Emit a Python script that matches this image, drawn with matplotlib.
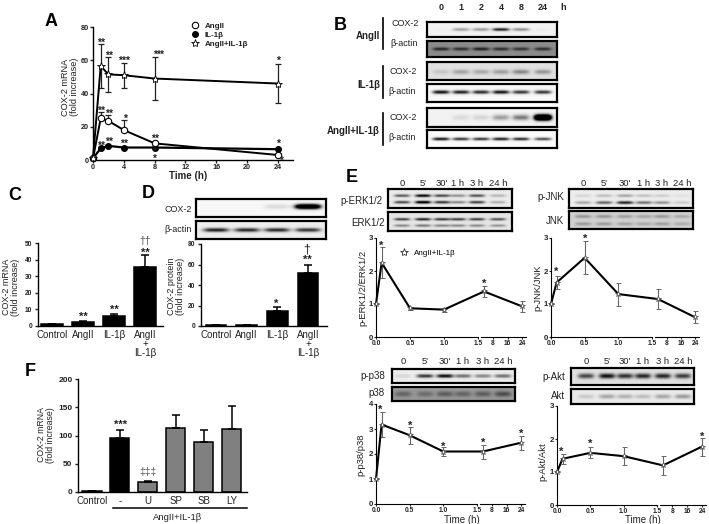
import matplotlib
matplotlib.use('Agg')
import matplotlib.pyplot as plt
import numpy as np

plt.rcParams['font.family'] = ['Liberation Sans', 'DejaVu Sans']

W, H = 709, 524

# Panel A, time course
time_a = [0, 1, 2, 4, 8, 24]
ang = [1, 25, 23.5, 18, 10, 3]
ang_err = [0, 4, 3.5, 6, 1, 1]
il = [1, 7, 8.5, 7.5, 7.5, 6.5]
il_err = [0, 0.5, 0.8, 0.6, 0.6, 0.5]
combo = [1, 56.5, 51.5, 51, 49, 46]
combo_err = [0, 13, 10.5, 7.5, 13, 12]

# Panels C, D, F, bars
cats = ['Control', 'AngII', 'IL-1β', 'AngII\n+\nIL-1β']
mrna_c = [1, 2.5, 6, 35.5]
mrna_c_err = [0, 0.3, 1.5, 7]
prot_d = [1, 1.2, 15, 51.5]
prot_d_err = [0, 0.2, 3.5, 8]
cats_f = ['Control', '-', 'U', 'SP', 'SB', 'LY']
mrna_f = [1, 96, 17, 113, 89, 111]
mrna_f_err = [0, 14, 3, 24, 21, 42]

# Panel E, phospho time courses
time_e = [0, 0.083, 0.5, 1, 3, 24]
erk = [1, 2.25, 0.87, 0.83, 1.38, 0.93]
erk_err = [0, 0.47, 0.05, 0.06, 0.17, 0.17]
jnk = [1, 1.65, 2.4, 1.3, 1.15, 0.6]
jnk_err = [0, 0.2, 0.5, 0.35, 0.3, 0.18]
p38 = [1, 3.18, 2.75, 2.1, 2.1, 2.45]
p38_err = [0, 0.5, 0.33, 0.17, 0.28, 0.28]
akt = [1, 1.4, 1.58, 1.48, 1.2, 1.77]
akt_err = [0, 0.15, 0.17, 0.27, 0.28, 0.27]

# Blot band strengths per lane
b_ang_cox = [0.02, 0.35, 0.38, 0.9, 0.42, 0.03]
b_ang_act = [0.75, 0.7, 0.8, 0.7, 0.65, 0.7]
b_il_cox = [0.12, 0.28, 0.25, 0.3, 0.4, 0.33]
b_il_act = [0.95, 0.9, 0.85, 0.95, 0.8, 0.8]
b_com_cox = [0, 0.1, 0.12, 0.35, 0.5, 2.5]
b_com_act = [0.95, 0.8, 0.8, 0.9, 0.85, 0.7]
d_cox = [0, 0, 0.12, 1.8]
d_act = [0.9, 0.85, 0.85, 0.8]
e_perk = [0.8, 1.3, 0.9, 0.5, 0.85, 0.3]
e_erk = [0.85, 1, 0.9, 0.85, 0.85, 0.75]
e_pjnk = [0.3, 0.6, 0.9, 0.55, 0.4, 0.15]
e_jnk = [0.3, 0.3, 0.25, 0.22, 0.28, 0.2]
e_pp38 = [0.1, 0.8, 1, 0.55, 0.45, 0.55]
e_p38 = [0.35, 0.3, 0.4, 0.35, 0.4, 0.5]
e_pakt = [0.7, 0.95, 0.8, 0.85, 0.85, 0.75]
e_akt = [0.15, 0.3, 0.25, 0.2, 0.3, 0.35]

fig = plt.figure(figsize=(W / 100, H / 100), dpi=100, facecolor='white')


def axpx(x0, y0, x1, y1):
    # axes from pixel box, y counted from the top
    return fig.add_axes([x0 / W, 1 - y1 / H, (x1 - x0) / W, (y1 - y0) / H])


over = axpx(0, 0, W, H)
over.set_xlim(0, W)
over.set_ylim(H, 0)
over.axis('off')
over.set_zorder(10)
over.patch.set_alpha(0)


def txt(x, y, s, size=6.3, weight='normal', ha='center', rot=0, color='#222222', ls=0.9):
    over.text(x, y, s, fontsize=size, fontweight=weight, ha=ha, va='center', rotation=rot,
              color=color, linespacing=ls, rotation_mode='anchor' if rot else 'default')


def marks(pts, s='*', size=8):
    for x, y in pts:
        over.text(x, y + 2, s, fontsize=size, fontweight='bold', ha='center', va='center', color='#222222')


def style(ax, tick=5.2, weight='bold', lw=1.0, length=2.5, pad=1.5):
    for s in ['top', 'right']:
        ax.spines[s].set_visible(False)
    for s in ['left', 'bottom']:
        ax.spines[s].set_linewidth(lw)
    ax.patch.set_alpha(0)
    ax.tick_params(length=length, width=lw, labelsize=tick, pad=pad, colors='#222222')
    for lab in ax.get_xticklabels() + ax.get_yticklabels():
        lab.set_fontweight(weight)


def blot(x0, y0, x1, y1, lanes, levels, bg, rows=(0.5,), weights=(1.0,), sx=0.32, sy=1.5):
    # lanes are pixel centres, levels the band strength in each lane
    ax = axpx(x0, y0, x1, y1)
    xx, yy = np.meshgrid(np.linspace(x0, x1, (x1 - x0) * 3), np.linspace(y0, y1, (y1 - y0) * 3))
    dark = np.zeros_like(xx)
    gap = (lanes[-1] - lanes[0]) / (len(lanes) - 1)
    for cx, lev in zip(lanes, levels):
        for frac, w in zip(rows, weights):
            cy = y0 + frac * (y1 - y0)
            dark += lev * w * np.exp(-((xx - cx) / (sx * gap * 1.3)) ** 4) * np.exp(-((yy - cy) / sy) ** 2)
    ax.imshow(bg * (1 - np.clip(dark, 0, 1)), cmap='gray', vmin=0, vmax=1, aspect='auto', interpolation='bilinear')
    ax.set_xticks([])
    ax.set_yticks([])
    for s in ax.spines.values():
        s.set_linewidth(1.6)
    return ax


def bars(box, xlim, ylim, yt, cats_, vals, errs, colors, width=0.68, tick=4.8):
    ax = axpx(*box)
    xs = np.arange(len(vals))
    ax.bar(xs, vals, width, color=colors, edgecolor='black', linewidth=1.1)
    ax.errorbar(xs, vals, yerr=[np.zeros(len(errs)), errs], fmt='none', ecolor='black', elinewidth=1.1,
                capsize=3.2, capthick=1.1)
    ax.set_xlim(*xlim)
    ax.set_ylim(*ylim)
    ax.set_yticks(yt)
    ax.set_xticks(xs)
    ax.set_xticklabels(cats_, linespacing=0.85)
    style(ax, tick=tick)
    ax.tick_params(axis='x', length=0, pad=3, labelsize=7)
    for lab in ax.get_xticklabels():
        lab.set_fontweight('normal')
    return ax


def timecourse(box_y, knots_px, yt, vals, errs, ylab, ylab_x, ylab_y, xlabel=False):
    knots_h = [0, 1.5, 3, 24, 26]
    y0, y1 = box_y
    ax = axpx(knots_px[0], y0, knots_px[-1], y1)
    fwd = lambda v: np.interp(v, knots_h, knots_px)
    inv = lambda v: np.interp(v, knots_px, knots_h)
    ax.set_xscale('function', functions=(fwd, inv))
    ax.errorbar(time_e, vals, yerr=errs, fmt='none', ecolor='#666666', elinewidth=0.8, capsize=1.8,
                capthick=0.7, clip_on=False, zorder=2)
    ax.plot(time_e, vals, '-', color='black', lw=1.5, clip_on=False, zorder=3)
    ax.plot(time_e, vals, '*', mfc='white', mec='#444444', mew=0.5, ms=4, clip_on=False, zorder=4)
    ax.set_xlim(0, 26)
    ax.set_ylim(yt[0], yt[-1])
    ax.set_yticks(yt)
    ax.set_xticks([0, 0.5, 1, 1.5, 8, 16, 24])
    ax.set_xticklabels(['0.0', '0.5', '1.0', '1.5', '8', '16', '24'])
    ax.minorticks_off()
    style(ax, tick=4.8, lw=0.8, length=1.5, pad=0.8)
    ax.spines['bottom'].set_bounds(0, 1.5)
    ax.plot([2.25, 26], [yt[0], yt[0]], color='black', lw=0.8, clip_on=False, transform=ax.get_xaxis_transform())
    ax.tick_params(axis='y', labelsize=5.6)
    txt(ylab_x, ylab_y, ylab, size=6.8, rot=90)
    if xlabel:
        txt((knots_px[0] + knots_px[3]) / 2 + 13, 520, 'Time (h)', size=7)
    return ax


# Panel A
ax = axpx(93, 27, 293, 160)
ax.errorbar(time_a, combo, yerr=combo_err, fmt='none', ecolor='#222222', elinewidth=0.9, capsize=2.5, capthick=0.9, clip_on=False)
ax.errorbar(time_a, ang, yerr=[np.zeros(6), ang_err], fmt='none', ecolor='#222222', elinewidth=0.9, capsize=2.5, capthick=0.9, clip_on=False)
ax.errorbar(time_a, il, yerr=[np.zeros(6), il_err], fmt='none', ecolor='#222222', elinewidth=0.9, capsize=2, capthick=0.9, clip_on=False)
ax.plot(time_a, ang, '-o', color='black', lw=1.4, mfc='white', mew=0.8, ms=4.6, clip_on=False, label='AngII', zorder=4)
ax.plot(time_a, il, '-o', color='black', lw=1.6, mfc='black', ms=4, clip_on=False, label='IL-1β', zorder=3)
ax.plot(time_a, combo, '-*', color='black', lw=1.4, mfc='white', mew=0.6, ms=6, clip_on=False, label='AngII+IL-1β', zorder=4)
ax.set_xlim(0, 25.95)
ax.set_ylim(0, 80)
ax.set_xticks([0, 4, 8, 12, 16, 20, 24])
ax.set_yticks([0, 20, 40, 60, 80])
style(ax, tick=5.2, length=2, pad=1)
handles, labels = ax.get_legend_handles_labels()
leg = ax.legend(handles, labels, loc='upper left', bbox_to_anchor=(190 / W, 1 - 22 / H), bbox_transform=fig.transFigure,
                frameon=False, fontsize=5.8, handlelength=1.2, handletextpad=0.6, labelspacing=0.2, borderpad=0, borderaxespad=0)
for t in leg.get_texts():
    t.set_fontweight('bold')
    t.set_color('#222222')
for line in leg.get_lines():
    line.set_linestyle('none')
txt(70, 87, 'COX-2 mRNA\n(fold increase)', size=6.6, rot=90, ls=1.05)
txt(188, 176, 'Time (h)', size=7, weight='bold')
marks([(101, 41), (160, 53)], '**', 7.5)
marks([(109, 54)], '**', 7.5)
marks([(124, 59)], '***', 7.5)
marks([(155, 53), (278, 59), (125, 117), (278, 142)], '*', 7.5)
marks([(101, 109), (109, 112), (155, 137), (101, 144), (109, 140), (124, 142)], '**', 7.5)
marks([(155, 150), (155, 157), (282, 159)], '*', 7)

# Panel B
lanes_b = [441, 461, 481, 501, 521, 543]
blot(427, 22, 557, 37, lanes_b, b_ang_cox, 0.95)
blot(427, 41, 557, 57, lanes_b, b_ang_act, 0.55, sy=1.7)
blot(427, 62, 557, 80, lanes_b, b_il_cox, 0.88, rows=(0.55,), sy=2.4)
blot(427, 84, 557, 102, lanes_b, b_il_act, 0.97, rows=(0.45,), sy=1.8)
blot(427, 108, 557, 127, lanes_b, b_com_cox, 0.95, rows=(0.5,), sy=2.8)
blot(427, 130, 557, 148, lanes_b, b_com_act, 0.98, rows=(0.5,), sy=1.5)
for x, s in zip(lanes_b, ['0', '1', '2', '4', '8', '24']):
    txt(x, 7, s, size=6.5, weight='bold')
txt(563, 7, 'h', size=6.5, weight='bold')
txt(368, 36, 'AngII', size=7, weight='bold')
txt(369, 85, 'IL-1β', size=7, weight='bold')
txt(380, 131, 'AngII+IL-1β', size=7, weight='bold', ha='right')
for a, b in [(18, 49), (66, 98), (113, 145)]:
    over.plot([383, 383], [a, b], color='black', lw=1.2)
for y, x, s in [(23, 405, 'COX-2'), (44, 404, 'β-actin'), (71, 403, 'COX-2'), (92, 402, 'β-actin'),
                (118, 403, 'COX-2'), (138, 402, 'β-actin')]:
    txt(x, y, s, size=6.5)

# Panel C
bars((38, 243, 163, 326), (-0.45, 3.58), (0, 50), [0, 10, 20, 30, 40, 50], cats, mrna_c, mrna_c_err, 'black')
txt(11, 287, 'COX-2 mRNA\n(fold increase)', size=6.5, rot=90, ls=1.05)
marks([(83, 315), (114, 308), (145, 251)], '**')
txt(145, 241, '††', size=7.5, color='#555555')

# Panel D
bars((201, 244, 327, 326), (-0.49, 3.62), (0, 80), [0, 20, 40, 60, 80], cats, prot_d, prot_d_err, 'black')
txt(176, 286, 'COX-2 protein\n(fold increase)', size=6.5, rot=90, ls=1.05)
marks([(276, 302)], '*')
marks([(307, 258)], '**')
txt(307, 249, '†', size=9)
lanes_d = [216, 247, 277, 308]
blot(196, 199, 326, 217, lanes_d, d_cox, 0.97, rows=(0.42,), sy=2.4)
blot(196, 221, 326, 239, lanes_d, d_act, 0.93, rows=(0.5,), sy=2.0)
txt(192, 209, 'COX-2', size=6.5, ha='right')
txt(192, 229, 'β-actin', size=6.5, ha='right')

# Panel F
colors_f = ['black', 'black', '#808080', '#808080', '#808080', '#808080']
bars((78, 379, 247, 492), (-0.5, 5.54), (0, 200), [0, 50, 100, 150, 200], cats_f, mrna_f, mrna_f_err, colors_f, tick=6)
txt(46, 435, 'COX-2 mRNA\n(fold increase)', size=6.3, rot=90, ls=1.05)
marks([(121, 423)], '***')
txt(148, 472, '‡‡‡', size=7.5, color='#555555')
over.plot([113, 247], [508, 508], color='black', lw=1.1)
txt(178, 517, 'AngII+IL-1β', size=6.8)

# Panel E
ax = timecourse((238, 337), [376, 478, 484, 522, 526], [0, 1, 2, 3], erk, erk_err, 'p-ERK1/2/ERK1/2', 363, 288)
ax.plot([], [], '*', mfc='white', mec='#333333', mew=0.6, ms=6, label='AngII+IL-1β')
leg = ax.legend(loc='upper left', bbox_to_anchor=(399 / W, 1 - 249 / H), bbox_transform=fig.transFigure, frameon=False,
                fontsize=5.8, handlelength=1.2, handletextpad=0.6, borderpad=0, borderaxespad=0)
marks([(381, 244), (484, 282)])
timecourse((238, 337), [551, 652, 658, 695, 699], [0, 1, 2, 3], jnk, jnk_err, 'p-JNK/JNK', 538, 288)
marks([(556, 270), (585, 237)])
timecourse((404, 504), [376, 477, 483, 521, 525], [0, 1, 2, 3, 4], p38, p38_err, 'p-p38/p38', 361, 455, xlabel=True)
marks([(380, 408), (410, 424), (443, 445), (483, 441), (521, 432)])
timecourse((406, 505), [557, 657, 663, 702, 706], [0, 1, 2, 3], akt, akt_err, 'p-Akt/Akt', 543, 462, xlabel=True)
marks([(561, 450), (590, 442), (702, 435)])

time_lanes = ['0', "5'", "30'", '1 h', '3 h', '24 h']
lanes_erk = [402, 423, 442, 458, 477, 498]
blot(388, 189, 512, 208, lanes_erk, e_perk, 0.92, rows=(0.35, 0.7), weights=(0.8, 0.9), sy=1.4)
blot(388, 212, 512, 231, lanes_erk, e_erk, 0.9, rows=(0.38, 0.72), weights=(0.9, 0.5), sy=1.3)
lanes_jnk = [583, 604, 625, 644, 662, 682]
blot(569, 189, 693, 208, lanes_jnk, e_pjnk, 0.93, rows=(0.35, 0.72), weights=(0.35, 1.0), sy=1.5)
blot(569, 211, 693, 229, lanes_jnk, e_jnk, 0.82, rows=(0.3, 0.72), weights=(1.0, 0.9), sy=1.7)
lanes_p38 = [403, 425, 445, 463, 483, 503]
blot(392, 369, 515, 383, lanes_p38, e_pp38, 0.93, sy=1.8)
blot(392, 387, 515, 401, lanes_p38, e_p38, 0.6, sy=2.8)
lanes_akt = [586, 607, 625, 643, 663, 683]
blot(571, 368, 694, 385, lanes_akt, e_pakt, 0.88, sy=2.4)
blot(571, 389, 694, 404, lanes_akt, e_akt, 0.92, sy=2.2)
for lanes, y in [(lanes_erk, 183), (lanes_jnk, 183), (lanes_p38, 362), (lanes_akt, 362)]:
    for x, s in zip(lanes, time_lanes):
        txt(x, y, s, size=6.8)
for x, y, s in [(383, 201, 'p-ERK1/2'), (385, 223, 'ERK1/2'), (564, 197, 'p-JNK'), (564, 221, 'JNK'),
                (385, 376, 'p-p38'), (385, 393, 'p38'), (565, 377, 'p-Akt'), (565, 396, 'Akt')]:
    txt(x, y, s, size=7, ha='right')

# Panel letters
for x, y, s in [(51, 22, 'A'), (340, 25, 'B'), (15, 195, 'C'), (148, 193, 'D'), (352, 178, 'E'), (30, 372, 'F')]:
    txt(x, y, s, size=13, weight='bold', color='black')

fig.savefig('out.png', dpi=100)
